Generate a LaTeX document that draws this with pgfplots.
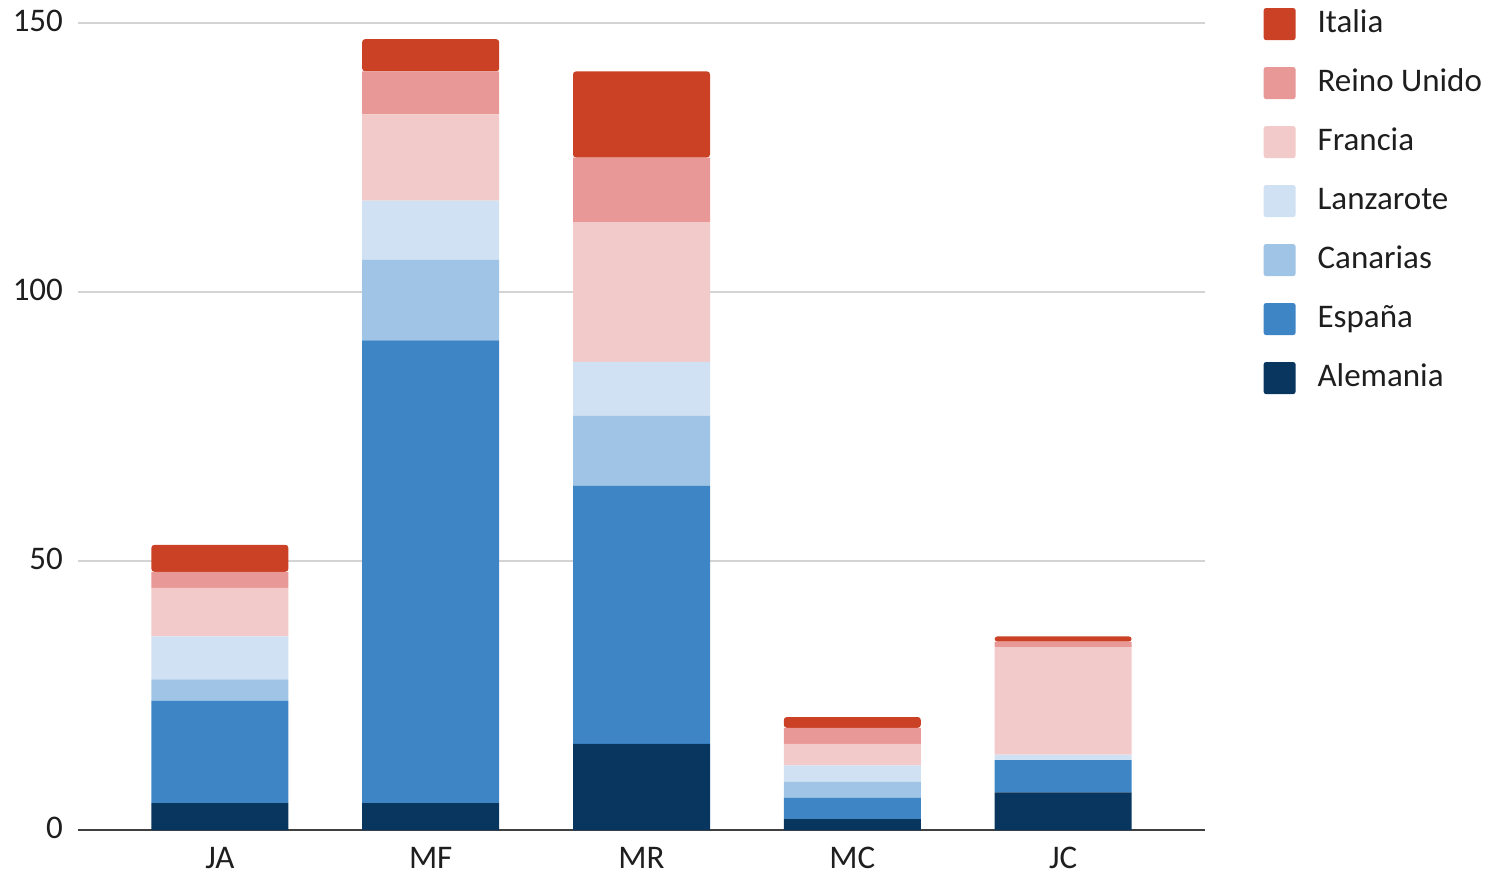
\documentclass[border=0pt]{standalone}
\usepackage{pgfplots}
\pgfplotsset{compat=1.18}
\usepackage{fontspec}
\setmainfont{Carlito}

\definecolor{cItalia}{HTML}{CB4125}
\definecolor{cReino}{HTML}{E89896}
\definecolor{cFrancia}{HTML}{F3CACA}
\definecolor{cLanzarote}{HTML}{CFE1F2}
\definecolor{cCanarias}{HTML}{A0C4E6}
\definecolor{cEspana}{HTML}{3E85C6}
\definecolor{cAlemania}{HTML}{08365F}
\definecolor{gridgray}{HTML}{D4D4D4}
\definecolor{basegray}{HTML}{404040}
\definecolor{txt}{HTML}{1E1E1E}

\begin{document}
\begin{tikzpicture}
\useasboundingbox (0,0) rectangle (742.5pt,437.5pt);
\begin{axis}[
  at={(39pt,22.5pt)}, anchor=south west,
  scale only axis, width=563.5pt, height=403.5pt,
  xmin=-0.673, xmax=4.673, ymin=0, ymax=150,
  ybar stacked, bar width=68.5pt,
  xtick={0,1,2,3,4}, xticklabels={JA,MF,MR,MC,JC},
  ytick={50,100,150},
  extra y ticks={0},
  extra y tick style={grid style={draw=basegray, line width=1pt}},
  ymajorgrids,
  grid style={draw=gridgray, line width=1pt},
  axis line style={draw=none},
  major tick length=0pt,
  tick style={draw=none},
  /pgf/number format/assume math mode=true,
  ticklabel style={font=\fontsize{16.5}{19}\selectfont, text=txt},
  yticklabel style={anchor=east, xshift=-4pt, yshift=1pt},
  xticklabel style={anchor=north, yshift=-5pt},
  reverse legend,
  legend style={
    at={(1.052,1.0185)}, anchor=north west,
    draw=none, fill=none, inner sep=0pt, outer sep=0pt,
    row sep=12.75pt,
    font=\fontsize{16.5}{19}\selectfont,
    text=txt,
    nodes={inner sep=0pt, text height=12pt, text depth=4.5pt},
    cells={anchor=base west},
    /tikz/every odd column/.append style={column sep=11pt},
  },
  legend image code/.code={
    \fill[#1, draw=none, rounded corners=1.2pt] (0pt,-3.75pt) rectangle (16pt,12.25pt);
  },
]
% stacked from the bottom up: Alemania first, Italia on top
\addplot[fill=cAlemania, draw=none] coordinates {(0,5) (1,5) (2,16) (3,2) (4,7)};
\addlegendentry{Alemania}
\addplot[fill=cEspana, draw=none] coordinates {(0,19) (1,86) (2,48) (3,4) (4,6)};
\addlegendentry{España}
\addplot[fill=cCanarias, draw=none] coordinates {(0,4) (1,15) (2,13) (3,3) (4,0)};
\addlegendentry{Canarias}
\addplot[fill=cLanzarote, draw=none] coordinates {(0,8) (1,11) (2,10) (3,3) (4,1)};
\addlegendentry{Lanzarote}
\addplot[fill=cFrancia, draw=none] coordinates {(0,9) (1,16) (2,26) (3,4) (4,20)};
\addlegendentry{Francia}
\addplot[fill=cReino, draw=none] coordinates {(0,3) (1,8) (2,12) (3,3) (4,1)};
\addlegendentry{Reino Unido}
\addplot[fill=cItalia, draw=none, rounded corners=1.5pt] coordinates {(0,5) (1,6) (2,16) (3,2) (4,1)};
\addlegendentry{Italia}
\end{axis}
\end{tikzpicture}
\end{document}
